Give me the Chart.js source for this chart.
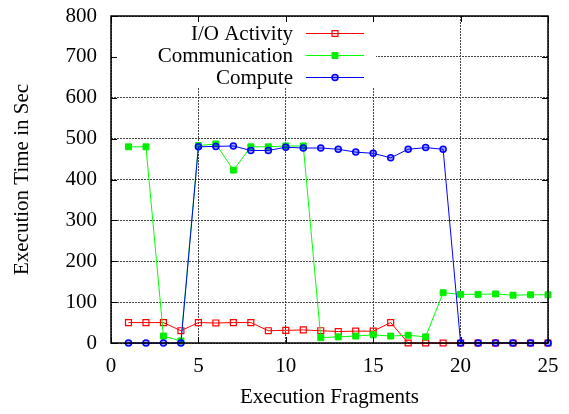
<!DOCTYPE html>
<html>
<head>
<meta charset="utf-8">
<script src="https://cdn.jsdelivr.net/npm/chart.js@4.4.1/dist/chart.umd.min.js"></script>
<style>
    html, body { margin: 0; padding: 0; background: #fff; }
</style>
</head>
<body>
<canvas id="execChart" width="569" height="414"></canvas>
<script>
// Values
const fragments = [1, 2, 3, 4, 5, 6, 7, 8, 9, 10, 11, 12, 13, 14, 15, 16, 17, 18, 19, 20, 21, 22, 23, 24, 25];
const ioActivity = [50, 50, 50, 30, 50, 49, 50, 50, 30, 31, 32, 30, 28, 29, 29, 50, 0, 0, 0, 0, 0, 0, 0, 0, 0];
const communication = [480, 480, 17, 5, 483, 487, 423, 480, 480, 482, 482, 13, 15, 17, 20, 17, 19, 15, 123, 119, 119, 120, 117, 118, 118];
const compute = [0, 0, 0, 0, 480, 481, 482, 471, 471, 479, 477, 477, 474, 467, 464, 453, 474, 478, 474, 0, 0, 0, 0, 0, 0];
const seriesLabels = ['I/O Activity', 'Communication', 'Compute'];
const xTicks = [0, 5, 10, 15, 20, 25];
const yTicks = [0, 100, 200, 300, 400, 500, 600, 700, 800];

const serif = "'Liberation Serif', 'Times New Roman', serif";

function toPoints(values) {
    return values.map((v, i) => ({ x: fragments[i], y: v }));
}

// gnuplot-style key (text right-aligned, line sample with marker on the right),
// opaque key background, inward tick marks and a full frame.
// Data never reaches the key area, so it is all drawn last.
const gnuplotLook = {
    id: 'gnuplotLook',
    afterDraw(chart) {
        const { ctx, chartArea } = chart;
        const { left, top, right, bottom } = chartArea;
        ctx.save();
        ctx.setLineDash([]);
        ctx.fillStyle = '#fff';
        ctx.fillRect(left + 1, top + 1, 264, 71);

        ctx.strokeStyle = '#000';
        ctx.lineWidth = 1;
        const tl = 6;
        ctx.beginPath();
        yTicks.forEach(v => {
            const y = Math.round(chart.scales.y.getPixelForValue(v)) + 0.5;
            ctx.moveTo(left, y); ctx.lineTo(left + tl, y);
            ctx.moveTo(right, y); ctx.lineTo(right - tl, y);
        });
        xTicks.forEach(v => {
            const x = Math.round(chart.scales.x.getPixelForValue(v)) + 0.5;
            ctx.moveTo(x, bottom); ctx.lineTo(x, bottom - tl);
            ctx.moveTo(x, top); ctx.lineTo(x, top + tl);
        });
        ctx.stroke();

        ctx.lineWidth = 1.5;
        ctx.strokeRect(left, top, right - left, bottom - top);

        ctx.font = '21px ' + serif;
        ctx.textAlign = 'right';
        ctx.textBaseline = 'middle';
        chart.data.datasets.forEach((ds, i) => {
            const y = top + 17 + 22 * i;
            ctx.fillStyle = '#000';
            ctx.fillText(ds.label, left + 182, y + 1);
            ctx.strokeStyle = ds.borderColor;
            ctx.lineWidth = 1;
            ctx.beginPath();
            ctx.moveTo(left + 195, y + 0.5);
            ctx.lineTo(left + 253, y + 0.5);
            ctx.stroke();
            ctx.fillStyle = ds.pointBackgroundColor;
            ctx.strokeStyle = ds.pointBorderColor;
            ctx.lineWidth = ds.pointBorderWidth;
            Chart.helpers.drawPoint(ctx, {
                pointStyle: ds.pointStyle,
                radius: ds.pointRadius,
                borderWidth: ds.pointBorderWidth,
                rotation: 0
            }, left + 224, y + 0.5);
        });
        ctx.restore();
    }
};

new Chart(document.getElementById('execChart'), {
    type: 'line',
    data: {
        datasets: [
            {
                label: seriesLabels[0],
                data: toPoints(ioActivity),
                borderColor: '#ff0000',
                borderWidth: 1,
                pointStyle: 'rect',
                pointRadius: 4.2,
                pointBorderWidth: 1.2,
                pointBorderColor: '#ff0000',
                pointBackgroundColor: 'rgba(255,255,255,0)',
                order: 3
            },
            {
                label: seriesLabels[1],
                data: toPoints(communication),
                borderColor: '#00ff00',
                borderWidth: 1,
                pointStyle: 'rect',
                pointRadius: 4.2,
                pointBorderWidth: 1,
                pointBorderColor: '#00ee00',
                pointBackgroundColor: '#00ee00',
                order: 2
            },
            {
                label: seriesLabels[2],
                data: toPoints(compute),
                borderColor: '#0000ff',
                borderWidth: 1,
                pointStyle: 'circle',
                pointRadius: 3,
                pointBorderWidth: 1.5,
                pointBorderColor: '#0000ff',
                pointBackgroundColor: 'rgba(0,0,255,0.35)',
                order: 1
            }
        ]
    },
    options: {
        responsive: false,
        animation: false,
        devicePixelRatio: 1,
        clip: false,
        layout: { padding: { left: 0, right: 21, top: 16, bottom: 0 } },
        plugins: {
            legend: { display: false },
            tooltip: { enabled: false }
        },
        elements: { line: { tension: 0 } },
        scales: {
            x: {
                type: 'linear',
                min: 0,
                max: 25,
                afterBuildTicks: scale => { scale.ticks = xTicks.map(v => ({ value: v })); },
                afterFit: scale => {
                    scale.height = 71;
                    scale.paddingLeft = 0;
                    scale.paddingRight = 0;
                },
                grid: { color: '#444', drawTicks: false, lineWidth: 1 },
                border: { display: false, dash: [2, 1] },
                ticks: { color: '#000', padding: 11, maxRotation: 0, font: { family: serif, size: 21 } },
                title: {
                    display: true,
                    text: 'Execution Fragments',
                    color: '#000',
                    padding: { top: 0, bottom: 4 },
                    font: { family: serif, size: 21 }
                }
            },
            y: {
                min: 0,
                max: 800,
                afterBuildTicks: scale => { scale.ticks = yTicks.map(v => ({ value: v })); },
                afterFit: scale => {
                    scale.width = 111;
                    scale.paddingTop = 0;
                    scale.paddingBottom = 0;
                },
                grid: { color: '#444', drawTicks: false, lineWidth: 1 },
                border: { display: false, dash: [2, 1] },
                ticks: { color: '#000', padding: 14, font: { family: serif, size: 21 } },
                title: {
                    display: true,
                    text: 'Execution Time in Sec',
                    color: '#000',
                    padding: { top: 10, bottom: 0 },
                    font: { family: serif, size: 21 }
                }
            }
        }
    },
    plugins: [gnuplotLook]
});
</script>
</body>
</html>
